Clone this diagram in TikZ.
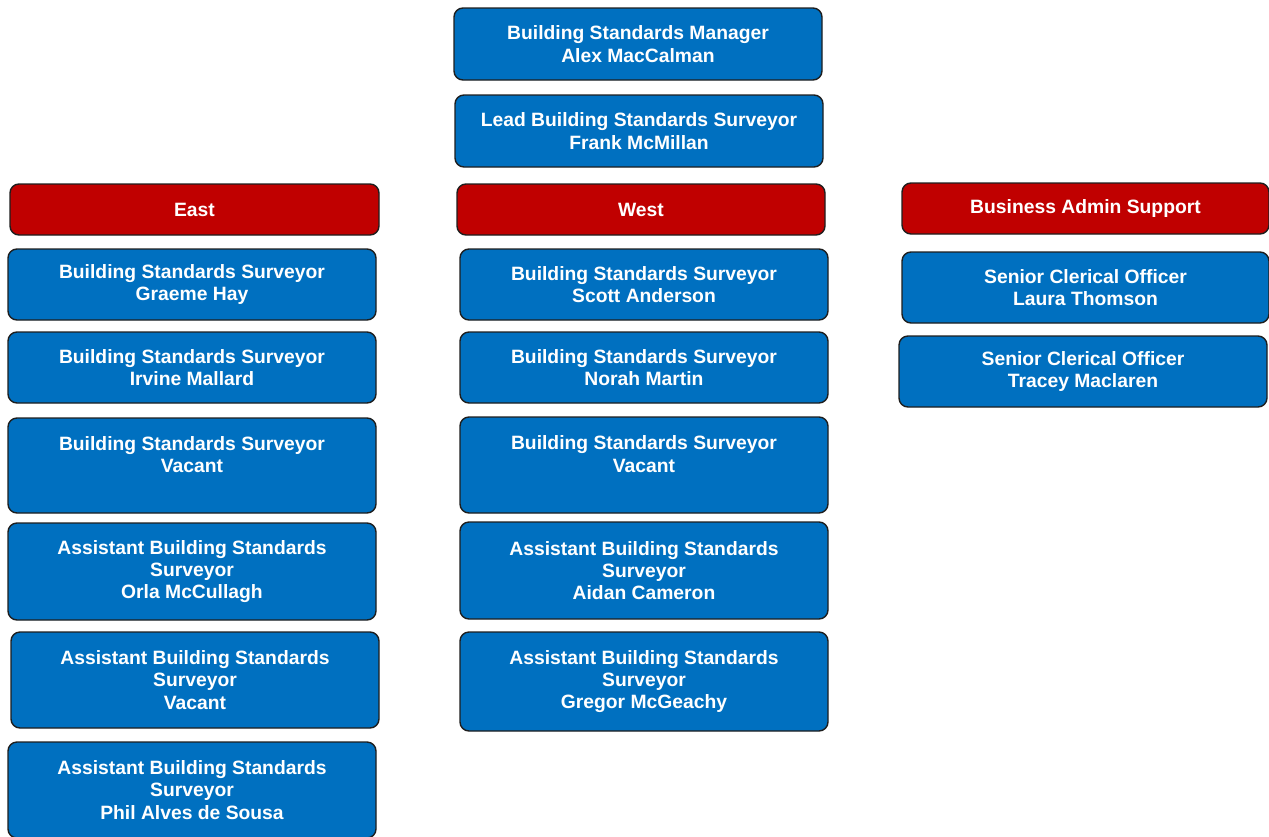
\documentclass[tikz,border=0pt]{standalone}
\usepackage{fontspec}
\setmainfont{Liberation Sans}
\definecolor{boxblue}{HTML}{0070C0}
\definecolor{boxred}{HTML}{C00000}
\definecolor{boxedge}{HTML}{1E1E1E}
\begin{document}
\begin{tikzpicture}[x=1pt,y=-1pt,
  card/.style={draw=boxedge, line width=1.4pt, rounded corners=9pt, minimum width=368pt,
    align=center, text=white, inner sep=0pt,
    font=\fontsize{19.3}{22.2}\selectfont\bfseries},
  bluecard/.style={card, fill=boxblue},
  redcard/.style={card, fill=boxred}]
\useasboundingbox (0,0) rectangle (1269,836);
% top
\node[bluecard, minimum height=72pt] (mgr) at (638,44) {Building Standards Manager\\Alex MacCalman};
\node[bluecard, minimum height=72pt] (lead) at (639,131) {Lead Building Standards Surveyor\\Frank McMillan};
% headers
\node[redcard, minimum width=369pt, minimum height=51pt] (east) at (194.5,209.5) {East};
\node[redcard, minimum height=51pt] (west) at (641,209.5) {West};
\node[redcard, minimum width=367pt, minimum height=51pt] (bas) at (1085.5,208.5) {Business Admin Support};
% east column
\node[bluecard, minimum height=71pt] (e1) at (192,284.5) {Building Standards Surveyor\\Graeme Hay};
\node[bluecard, minimum height=71pt] (e2) at (192,367.5) {Building Standards Surveyor\\Irvine Mallard};
\node[bluecard, minimum height=95pt] (e3) at (192,465.5) {Building Standards Surveyor\\Vacant\\\mbox{}};
\node[bluecard, minimum height=97pt] (e4) at (192,571.5) {Assistant Building Standards\\Surveyor\\Orla McCullagh};
\node[bluecard, minimum height=96pt] (e5) at (195,680) {Assistant Building Standards\\Surveyor\\Vacant};
\node[bluecard, minimum height=96pt] (e6) at (192,790) {Assistant Building Standards\\Surveyor\\Phil Alves de Sousa};
% west column
\node[bluecard, minimum height=71pt] (w1) at (644,284.5) {Building Standards Surveyor\\Scott Anderson};
\node[bluecard, minimum height=71pt] (w2) at (644,367.5) {Building Standards Surveyor\\Norah Martin};
\node[bluecard, minimum height=96pt] (w3) at (644,465) {Building Standards Surveyor\\Vacant\\\mbox{}};
\node[bluecard, minimum height=97pt] (w4) at (644,570.5) {Assistant Building Standards\\Surveyor\\Aidan Cameron};
\node[bluecard, minimum height=99pt] (w5) at (644,681.5) {Assistant Building Standards\\Surveyor\\Gregor McGeachy};
% admin column
\node[bluecard, minimum width=367pt, minimum height=71pt] (r1) at (1085.5,287.5) {Senior Clerical Officer\\Laura Thomson};
\node[bluecard, minimum height=71pt] (r2) at (1083,371.5) {Senior Clerical Officer\\Tracey Maclaren};
\end{tikzpicture}
\end{document}
